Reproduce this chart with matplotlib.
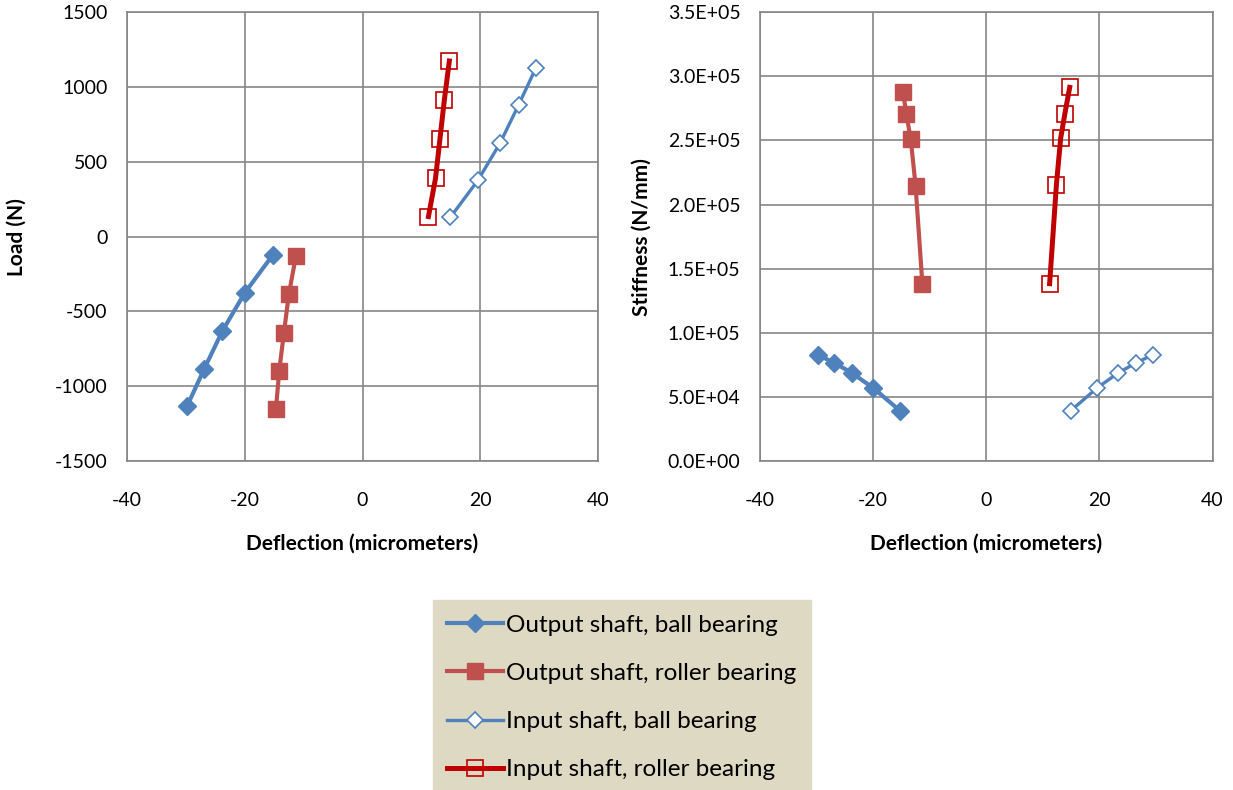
import matplotlib.pyplot as plt
from matplotlib.ticker import FuncFormatter

plt.rcParams['font.family'] = ['Lato', 'DejaVu Sans']
plt.rcParams['axes.unicode_minus'] = False

# deflection (micrometers), load (N), stiffness (N/mm) per series
out_ball_x = [-15.2, -20.0, -23.8, -26.9, -29.8]
out_ball_load = [-121, -376, -631, -886, -1134]
out_ball_stiff = [39000, 57000, 68750, 76600, 82800]

out_roll_x = [-11.3, -12.5, -13.35, -14.15, -14.7]
out_roll_load = [-128, -383, -644, -899, -1154]
out_roll_stiff = [138300, 214800, 250800, 271000, 287500]

in_ball_x = [14.9, 19.6, 23.35, 26.5, 29.45]
in_ball_load = [128, 376, 624, 879, 1128]
in_ball_stiff = [39000, 57000, 68750, 76600, 82800]

in_roll_x = [11.2, 12.4, 13.15, 13.9, 14.75]
in_roll_load = [134, 389, 651, 913, 1174]
in_roll_stiff = [138300, 215600, 251600, 271000, 291400]

labels = ["Output shaft, ball bearing", "Output shaft, roller bearing",
          "Input shaft, ball bearing", "Input shaft, roller bearing"]

blue = "#4F81BD"
red = "#C0504D"
dred = "#C00000"
gray = "#868686"

fig = plt.figure(figsize=(12.33, 7.9), dpi=100)
ax1 = fig.add_axes([0.103, 0.4165, 0.382, 0.568])
ax2 = fig.add_axes([0.6164, 0.4165, 0.367, 0.568])


def draw(ax, ys):
    h = []
    h += ax.plot(out_ball_x, ys[0], color=blue, lw=3.0, marker="D", ms=9,
                 mfc=blue, mec=blue, label=labels[0])
    h += ax.plot(out_roll_x, ys[1], color=red, lw=3.0, marker="s", ms=12,
                 mfc=red, mec=red, label=labels[1])
    h += ax.plot(in_ball_x, ys[2], color=blue, lw=2.4, marker="D", ms=8,
                 mfc="white", mec=blue, mew=1.2, label=labels[2])
    h += ax.plot(in_roll_x, ys[3], color=dred, lw=3.6, marker="s", ms=12,
                 mfc="none", mec=dred, mew=1.2, label=labels[3])
    ax.set_xlim(-40, 40)
    ax.set_xticks([-40, -20, 0, 20, 40])
    ax.grid(True, color=gray, lw=1.2)
    ax.set_axisbelow(True)
    for s in ax.spines.values():
        s.set_color(gray)
        s.set_linewidth(1.2)
    ax.tick_params(length=0, labelsize=14)
    ax.tick_params(axis="x", pad=22)
    ax.tick_params(axis="y", pad=14)
    ax.set_xlabel("Deflection (micrometers)", fontsize=15, fontweight="bold", labelpad=18)
    return h


handles = draw(ax1, [out_ball_load, out_roll_load, in_ball_load, in_roll_load])
ax1.set_ylim(-1500, 1500)
ax1.set_yticks(range(-1500, 1501, 500))
ax1.set_ylabel("Load (N)", fontsize=15, fontweight="bold", labelpad=20)

draw(ax2, [out_ball_stiff, out_roll_stiff, in_ball_stiff, in_roll_stiff])
ax2.set_ylim(0, 3.5e5)
ax2.set_yticks([i * 0.5e5 for i in range(8)])
ax2.yaxis.set_major_formatter(FuncFormatter(lambda v, p: "%.1E" % v))
ax2.set_ylabel("Stiffness (N/mm)", fontsize=15, fontweight="bold", labelpad=12)

leg = fig.legend(handles=handles, loc="upper left", bbox_to_anchor=(0.351, 0.2405),
                 fontsize=17.5, frameon=True, fancybox=False, handlelength=2.3,
                 handletextpad=0.1, labelspacing=1.12, borderpad=0.6,
                 borderaxespad=0)
leg.get_frame().set_facecolor("#DDD9C3")
leg.get_frame().set_edgecolor("#DDD9C3")
leg.get_frame().set_alpha(1)

fig.savefig("out.png", dpi=100)
